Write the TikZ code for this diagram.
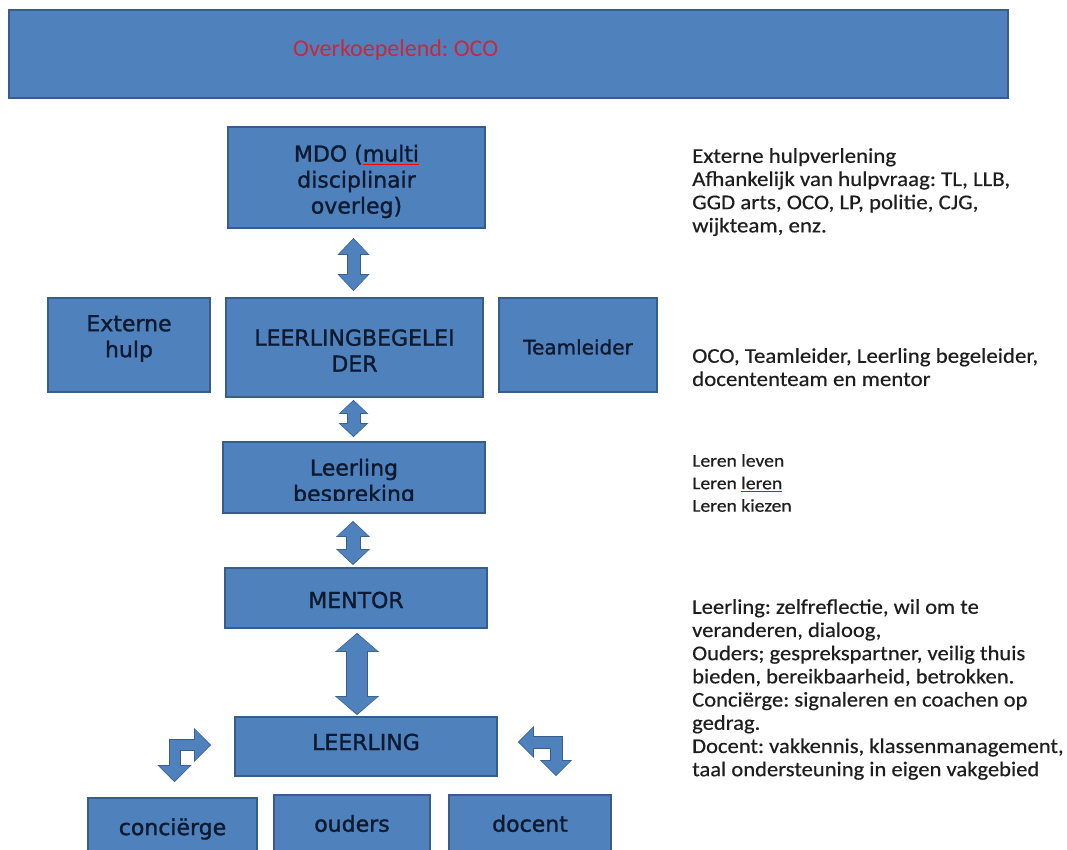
\documentclass[tikz,border=0pt]{standalone}
\usepackage{fontspec}
\usetikzlibrary{arrows.meta,calc}
\newfontfamily\boxfont{DejaVu Sans}[FakeBold=1.3]
\newfontfamily\notefont{Carlito}[FakeStretch=1.09,FakeBold=0.4]
\newfontfamily\notefontb{Carlito}[FakeStretch=1.075,FakeBold=0.4]
\newfontfamily\titlefont{Carlito}
\definecolor{boxfill}{HTML}{4F81BD}
\definecolor{boxline}{HTML}{385D8A}
\definecolor{boxtext}{HTML}{0E1A30}
\definecolor{titlered}{HTML}{C8283C}
\definecolor{notetext}{HTML}{1E1E1E}
\newsavebox\spellbox
\newcommand\spellerr[1]{\sbox\spellbox{#1}\rlap{\textcolor{red}{\rule[-3pt]{\wd\spellbox}{0.9pt}}}\usebox\spellbox}
\frenchspacing
\tikzset{
  box/.style={rectangle, draw=boxline, fill=boxfill, line width=1.8pt, inner sep=0pt},
  btext/.style={text=boxtext, font=\boxfont\fontsize{22}{26}\selectfont, align=center, inner sep=0pt},
  note/.style={anchor=north west, inner sep=0pt, align=left, text=notetext, font=\notefont\fontsize{21}{23.2}\selectfont},
  arrb/.style n args={3}{draw=boxline, line width=#1, line join=miter, line cap=butt,
     arrows={Triangle[width=#2,length=#3]-Triangle[width=#2,length=#3]}},
  arrf/.style n args={3}{draw=boxfill, line width=#1, line join=miter, line cap=butt,
     shorten <=1.2pt, shorten >=1.2pt,
     arrows={Triangle[width=#2,length=#3]-Triangle[width=#2,length=#3]}},
}
\begin{document}
\begin{tikzpicture}[x=1pt,y=-1pt]
\useasboundingbox (0,0) rectangle (1067,850);
\clip (0,0) rectangle (1067,850);
\fill[white] (0,0) rectangle (1067,850);

% top bar
\node[box, minimum width=999pt, minimum height=88pt] (top) at (508.5,54) {};
\node[anchor=west, inner sep=0pt, text=titlered, font=\titlefont\fontsize{24}{28}\selectfont] (topt) at (293,50) {Overkoepelend: OCO};

% boxes
\node[box, minimum width=257pt, minimum height=101pt] (mdo) at (356.5,177.5) {};
\node[box, minimum width=162pt, minimum height=94pt] (ext) at (129,345) {};
\node[box, minimum width=257pt, minimum height=99pt] (lb) at (354.5,347.5) {};
\node[box, minimum width=158pt, minimum height=94pt] (team) at (578,345) {};
\node[box, minimum width=262pt, minimum height=71pt] (lbsp) at (354,477.5) {};
\node[box, minimum width=262pt, minimum height=60pt] (mentor) at (356,598) {};
\node[box, minimum width=262pt, minimum height=59pt] (leer) at (366,746.5) {};
\node[box, minimum width=169pt, minimum height=72pt] (conc) at (172.5,834) {};
\node[box, minimum width=156pt, minimum height=75pt] (ouders) at (352,832.5) {};
\node[box, minimum width=162pt, minimum height=75pt] (docent) at (530,832.5) {};

% box texts
\node[btext] (mdot) at ($(mdo.center)+(0,4)$) {MDO (\spellerr{multi}\\disciplinair\\overleg)};
\node[btext] (extt) at ($(ext.center)+(0,-6.5)$) {Externe\\hulp};
\node[btext] (lbt) at ($(lb.center)+(0,3)$) {LEERLINGBEGELEI\\DER};
\node[btext, font=\boxfont\fontsize{20}{24}\selectfont] (teamt) at ($(team.center)+(0,2)$) {Teamleider};
\begin{scope}
\clip (223,442) rectangle (485,500);
\node[btext] (lbspt) at ($(lbsp.center)+(0,5)$) {Leerling\\bespreking};
\end{scope}
\node[btext] (mentort) at ($(mentor.center)+(0,2)$) {MENTOR};
\node[btext] (leert) at ($(leer.center)+(0,-4.5)$) {LEERLING};
\node[btext] (conct) at ($(conc.center)+(0,-5)$) {conciërge};
\node[btext] (ouderst) at ($(ouders.center)+(0,-9)$) {ouders};
\node[btext] (docentt) at ($(docent.center)+(0,-9)$) {docent};

% straight double arrows
\draw[arrb={14pt}{31pt}{17pt}] ($(mdo.south)+(-3,9)$) -- ($(lb.north)+(-1,-6)$);
\draw[arrf={12pt}{28pt}{15pt}] ($(mdo.south)+(-3,9)$) -- ($(lb.north)+(-1,-6)$);
\draw[arrb={14pt}{29pt}{14pt}] ($(lb.south)+(-1,2)$) -- ($(lbsp.north)+(-0.5,-4)$);
\draw[arrf={12pt}{26pt}{12pt}] ($(lb.south)+(-1,2)$) -- ($(lbsp.north)+(-0.5,-4)$);
\draw[arrb={15pt}{33pt}{16pt}] ($(lbsp.south)+(-1,7)$) -- ($(mentor.north)+(-3,-2)$);
\draw[arrf={13pt}{30pt}{14pt}] ($(lbsp.south)+(-1,7)$) -- ($(mentor.north)+(-3,-2)$);
\draw[arrb={22pt}{43pt}{19pt}] ($(mentor.south)+(1,4)$) -- ($(leer.north)+(-9,-1)$);
\draw[arrf={20pt}{40pt}{17pt}] ($(mentor.south)+(1,4)$) -- ($(leer.north)+(-9,-1)$);

% bent arrows
\coordinate (cl) at ($(conc.north)+(2,-15)$);
\coordinate (cr) at ($(leer.west)+(-23,-1.5)$);
\draw[arrb={12pt}{33pt}{17pt}] (cl) |- (cr);
\draw[arrf={10pt}{30pt}{15pt}] (cl) |- (cr);
\coordinate (rl) at ($(leer.east)+(20,-4.5)$);
\coordinate (rd) at ($(docent.north)+(26,-18)$);
\draw[arrb={13pt}{31pt}{16pt}] (rl) -| (rd);
\draw[arrf={11pt}{28pt}{14pt}] (rl) -| (rd);

% side notes
\node[note] (n1) at (692,148) {Externe hulpverlening\\Afhankelijk van hulpvraag: TL, LLB,\\GGD arts, OCO, LP, politie, CJG,\\wijkteam, enz.};
\node[note] (n2) at (692,348) {OCO, Teamleider, Leerling begeleider,\\docententeam en mentor};
\node[note, font=\notefont\fontsize{18}{22.5}\selectfont] (n3) at (692,454) {Leren leven\\Leren \spellerr{leren}\\Leren kiezen};
\node[note, font=\notefontb\fontsize{21}{23.2}\selectfont] (n4) at (692,599) {Leerling: zelfreflectie, wil om te\\veranderen, dialoog,\\Ouders; gesprekspartner, veilig thuis\\bieden, bereikbaarheid, betrokken.\\Conciërge: signaleren en coachen op\\gedrag.\\Docent: vakkennis, klassenmanagement,\\taal ondersteuning in eigen vakgebied};
\end{tikzpicture}
\end{document}
